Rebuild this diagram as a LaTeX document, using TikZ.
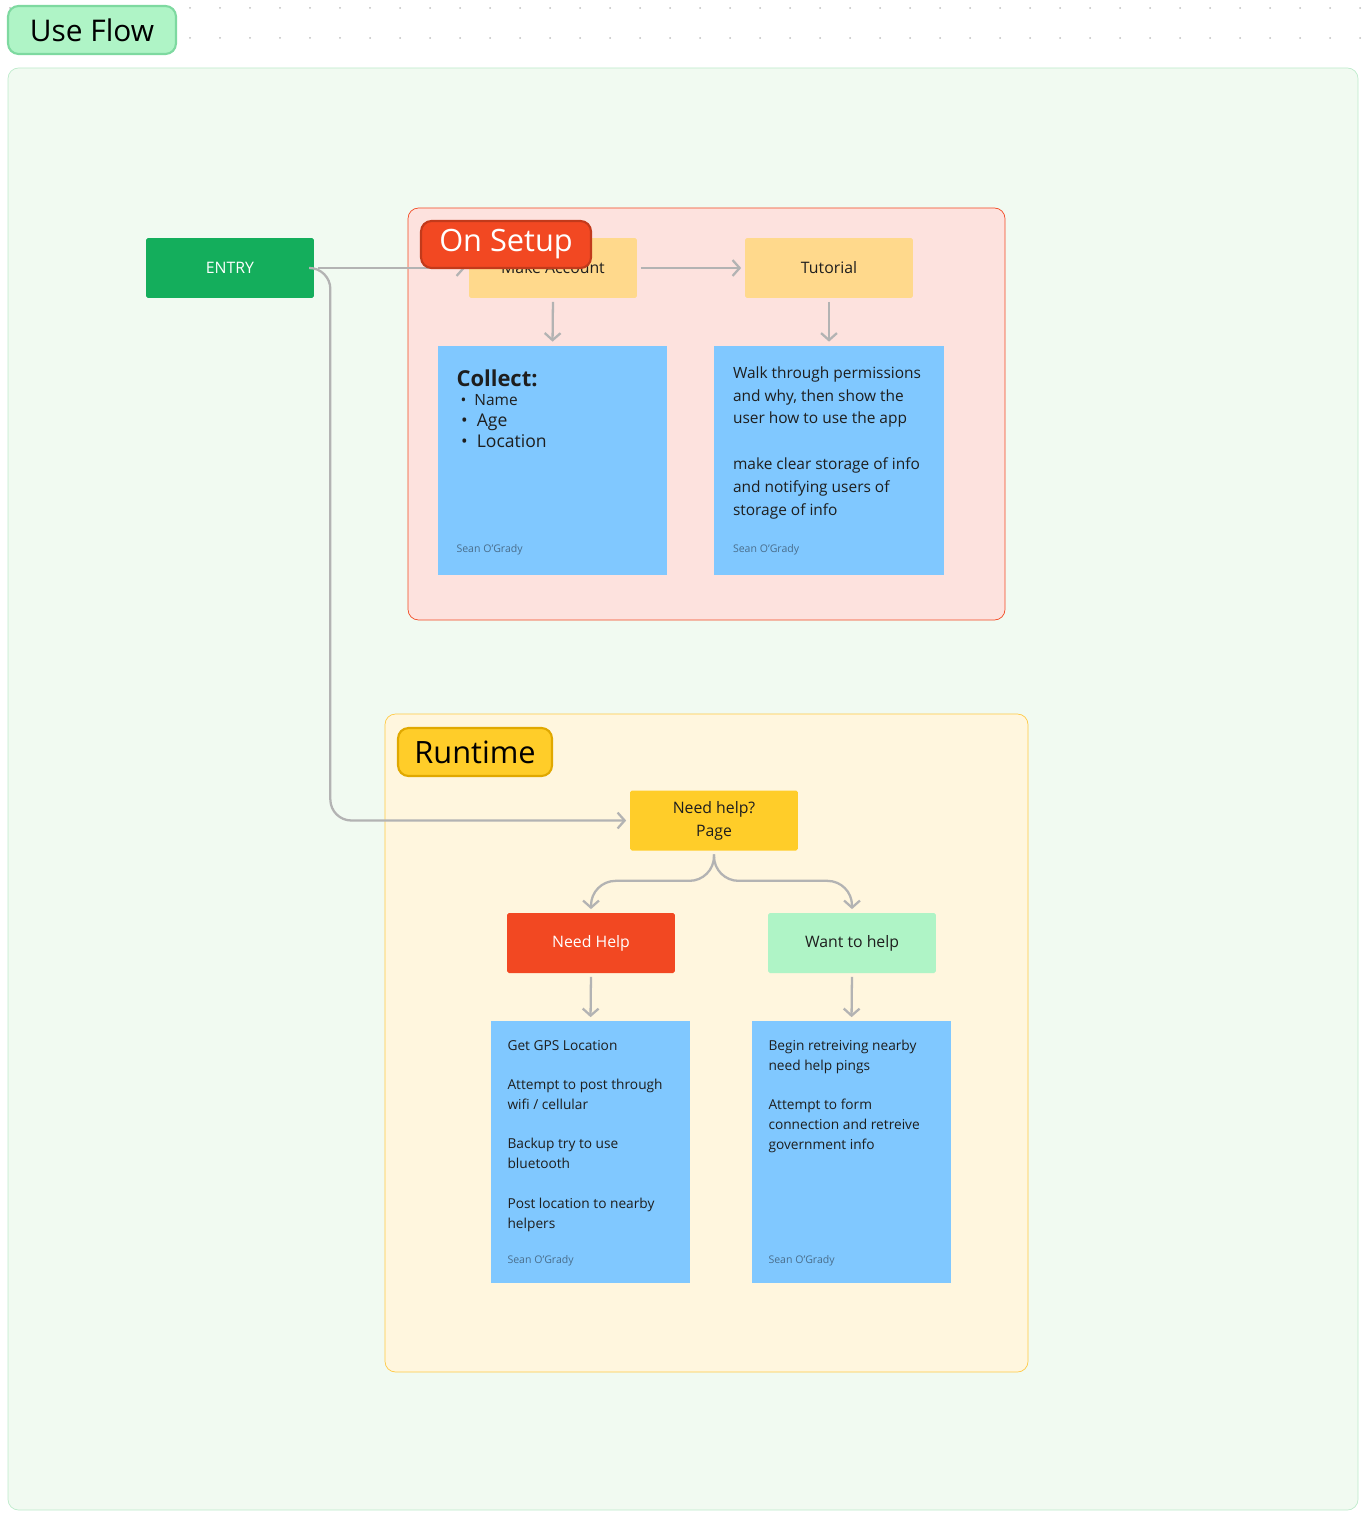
\documentclass[tikz,border=0pt]{standalone}
\usepackage{fontspec}
\setmainfont{Open Sans}
\usetikzlibrary{arrows.meta,positioning,calc}
\definecolor{bgGreen}{HTML}{F1FAF1}
\definecolor{lineGreen}{HTML}{BDEBCB}
\definecolor{tagGreen}{HTML}{AFF4C6}
\definecolor{tagGreenD}{HTML}{7ED9A0}
\definecolor{entryGreen}{HTML}{14AE5C}
\definecolor{setupFill}{HTML}{FDE2DE}
\definecolor{setupRed}{HTML}{F24822}
\definecolor{runFill}{HTML}{FFF6DE}
\definecolor{runLine}{HTML}{FFC943}
\definecolor{runYellow}{HTML}{FFCD29}
\definecolor{runYellowD}{HTML}{E0A800}
\definecolor{paleYellow}{HTML}{FFD98C}
\definecolor{stickyBlue}{HTML}{80C8FF}
\definecolor{flowGray}{HTML}{B3B3B3}
\definecolor{inkText}{HTML}{1E1E1E}
\definecolor{authorText}{HTML}{4A6E8C}
\tikzset{
  box/.style={minimum width=3.36cm, minimum height=1.2cm, rounded corners=1pt, inner sep=0pt, font=\fontsize{9}{11}\selectfont, align=center, text=inkText},
  sticky/.style={fill=stickyBlue, inner sep=0pt},
  stickytext/.style={anchor=north west, align=left, inner sep=0pt, text=inkText},
  author/.style={anchor=south west, inner sep=0pt, text=authorText, font=\fontsize{6}{7}\selectfont},
  tag/.style={rounded corners=6pt, line width=1.2pt, inner xsep=8pt, inner ysep=3pt},
  flow/.style={draw=flowGray, line width=1.3pt, -{Straight Barb[length=4pt,width=9pt]}, shorten >=2pt, shorten <=2pt}
}
\begin{document}
\begin{tikzpicture}[x=0.02cm,y=-0.02cm]
  \useasboundingbox (0,0) rectangle (1362,1513);
  % dots
  \foreach \i in {0,...,45} \fill[black!25] (10+30*\i,8) circle (1);
  \foreach \i in {0,...,45} \fill[black!25] (10+30*\i,38) circle (1);
  % frames
  \draw[lineGreen, fill=bgGreen, rounded corners=6] (8,68) rectangle (1358,1510);
  \draw[setupRed, fill=setupFill, rounded corners=6] (408,208) rectangle (1005,620);
  \draw[runLine, fill=runFill, rounded corners=6] (385,714) rectangle (1028,1372);
  % nodes
  \node[box, fill=entryGreen, text=white] (entry) at (230,268) {ENTRY};
  \node[box, fill=paleYellow] (account) at (553,268) {Make Account};
  \node[box, fill=paleYellow] (tutorial) at (829,268) {Tutorial};
  \node[sticky, minimum width=4.6cm, minimum height=4.6cm] (collect) at (552.5,460.5) {};
  \node[sticky, minimum width=4.6cm, minimum height=4.6cm] (walk) at (829,460.5) {};
  \node[box, fill=runYellow] (needpage) at (714,820.5) {Need help?\\[2pt]Page};
  \node[box, fill=setupRed, text=white] (needhelp) at (591,943) {Need Help};
  \node[box, fill=tagGreen] (wanthelp) at (852,943) {Want to help};
  \node[sticky, minimum width=4cm, minimum height=5.24cm] (gps) at (590.5,1152) {};
  \node[sticky, minimum width=4cm, minimum height=5.24cm] (pings) at (851.5,1152) {};
  % sticky texts
  \node[stickytext] at ($(collect.north west)+(19,24)$) {\fontsize{12.5}{15}\selectfont\bfseries Collect:\\[-1pt]
    \fontsize{8.8}{13}\selectfont\ \textbullet\ \ Name\\
    \ \textbullet\ \ Age\\
    \ \textbullet\ \ Location};
  \node[author] at ($(collect.south west)+(19,-20)$) {Sean O'Grady};
  \node[stickytext, font=\fontsize{8.8}{13}\selectfont] at ($(walk.north west)+(19,21)$) {Walk through permissions\\and why, then show the\\user how to use the app\\[13pt]make clear storage of info\\and notifying users of\\storage of info};
  \node[author] at ($(walk.south west)+(19,-20)$) {Sean O'Grady};
  \node[stickytext, font=\fontsize{7.8}{11.4}\selectfont] at ($(gps.north west)+(17,19)$) {Get GPS Location\\[11pt]Attempt to post through\\wifi / cellular\\[11pt]Backup try to use\\bluetooth\\[11pt]Post location to nearby\\helpers};
  \node[author] at ($(gps.south west)+(17,-17)$) {Sean O'Grady};
  \node[stickytext, font=\fontsize{7.8}{11.4}\selectfont] at ($(pings.north west)+(17,19)$) {Begin retreiving nearby\\need help pings\\[11pt]Attempt to form\\connection and retreive\\government info};
  \node[author] at ($(pings.south west)+(17,-17)$) {Sean O'Grady};
  % connectors
  \draw[flow] (entry.east) -- (account.west);
  \draw[flow, rounded corners=12] (entry.east) -- ++(16,0) |- (needpage.west);
  \draw[flow] (account.east) -- (tutorial.west);
  \draw[flow] (account.south) -- (collect.north);
  \draw[flow] (tutorial.south) -- (walk.north);
  \draw[flow, rounded corners=14] (needpage.south) -- ++(0,30) -| (needhelp.north);
  \draw[flow, rounded corners=14] (needpage.south) -- ++(0,30) -| (wanthelp.north);
  \draw[flow] (needhelp.south) -- (gps.north);
  \draw[flow] (wanthelp.south) -- (pings.north);
  % tags
  \node[tag, draw=tagGreenD, fill=tagGreen, minimum width=3.36cm, minimum height=0.96cm, font=\fontsize{17}{20}\selectfont] (useflow) at (92,30) {Use Flow};
  \node[tag, draw=setupRed!80!black, fill=setupRed, text=white, minimum width=3.4cm, minimum height=0.94cm, font=\fontsize{17.5}{20}\selectfont] (setuptag) at (506,244.5) {On Setup};
  \node[tag, draw=runYellowD, fill=runYellow, minimum width=3.08cm, minimum height=0.96cm, font=\fontsize{17.5}{20}\selectfont] (runtag) at (475,752) {Runtime};
\end{tikzpicture}
\end{document}
